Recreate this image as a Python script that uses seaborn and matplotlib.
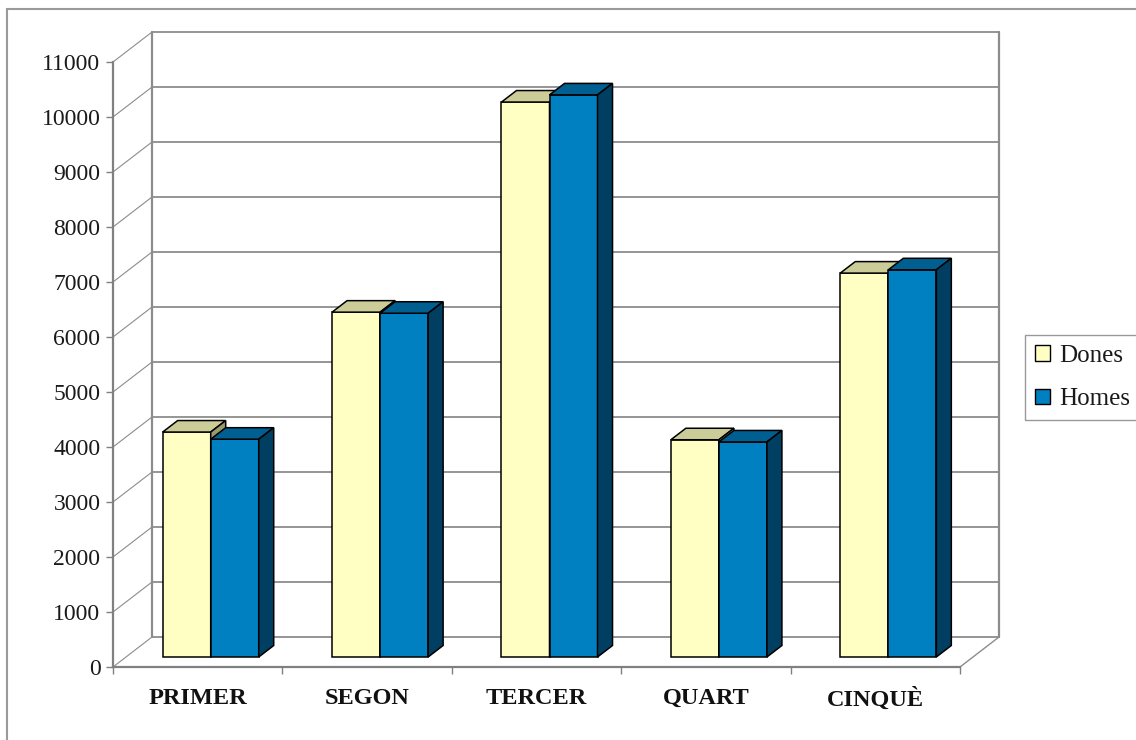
import numpy as np
import pandas as pd
import matplotlib
matplotlib.use("Agg")
import matplotlib.pyplot as plt
from matplotlib.patches import Polygon, Rectangle, Patch
import seaborn as sns

# Students per course, split by sex
cursos = ["PRIMER", "SEGON", "TERCER", "QUART", "CINQUÈ"]
dones = [4090, 6270, 10090, 3950, 6980]
homes = [3960, 6250, 10220, 3910, 7040]
series = ["Dones", "Homes"]
yticks = list(range(0, 11001, 1000))

front_colors = ["#FFFFC4", "#0080C0"]
top_colors = ["#CCCC99", "#005F91"]
side_colors = ["#99996B", "#003F61"]

df = pd.DataFrame({
    "curs": cursos * 2,
    "valor": dones + homes,
    "sexe": [series[0]] * len(cursos) + [series[1]] * len(cursos),
})

sns.set_theme(style="white")
plt.rcParams["font.family"] = ["Liberation Serif", "DejaVu Serif"]

W, H = 1136, 740
fig = plt.figure(figsize=(W / 100, H / 100), dpi=100)
fig.patch.set_facecolor("white")
# front plane of the 3-D box (where the axes and ticks live)
ax = fig.add_axes([113 / W, (H - 667) / H, 847 / W, 605 / H])

sns.barplot(data=df, x="curs", y="valor", hue="sexe", palette=front_colors,
            saturation=1, width=0.567, gap=0, errorbar=None, legend=False,
            edgecolor="black", linewidth=1.1, ax=ax)
bars = list(ax.patches)

ax.set_xlim(-0.5, len(cursos) - 0.5)
ax.set_ylim(0, 11000)
ax.set_facecolor("none")
ax.set_xlabel("")
ax.set_ylabel("")


def px_to_data(dx, dy):
    """Convert a screen offset in pixels to a data-space offset."""
    ox, oy = ax.transData.transform((0, 0))
    return tuple(ax.transData.inverted().transform((ox + dx, oy + dy)))


wdx, wdy = px_to_data(39, 30)    # depth of the whole box
pdx, pdy = px_to_data(13, 10)    # plane where the columns stand
bdx, bdy = px_to_data(15, 11.5)  # depth of each column

x_lo, x_hi = -0.5, len(cursos) - 0.5
grid_col = "#8c8c8c"

# back wall gridlines and left wall diagonals
for v in yticks:
    ax.plot([x_lo + wdx, x_hi + wdx], [v + wdy, v + wdy], color=grid_col,
            lw=1.3, clip_on=False, zorder=0.5)
    ax.plot([x_lo, x_lo + wdx], [v, v + wdy], color=grid_col,
            lw=0.8, clip_on=False, zorder=0.5)
# wall edges and floor outline
ax.plot([x_lo + wdx] * 2, [wdy, 11000 + wdy], color=grid_col, lw=1.6,
        clip_on=False, zorder=0.5)
ax.plot([x_hi + wdx] * 2, [wdy, 11000 + wdy], color=grid_col, lw=1.6,
        clip_on=False, zorder=0.5)
ax.plot([x_hi, x_hi + wdx], [0, wdy], color=grid_col, lw=1.0,
        clip_on=False, zorder=0.5)

# columns: move onto their plane and add top and side faces
order = sorted(range(len(bars)), key=lambda i: bars[i].get_x())
for rank, i in enumerate(order):
    b = bars[i]
    k = 0 if i < len(cursos) else 1
    x0, w, h = b.get_x(), b.get_width(), b.get_height()
    x0 += pdx
    b.set_x(x0)
    b.set_y(pdy)
    b.set_clip_on(False)
    z = 2 + 3 * rank
    b.set_zorder(z)
    top = Polygon([(x0, h + pdy), (x0 + w, h + pdy),
                   (x0 + w + bdx, h + pdy + bdy), (x0 + bdx, h + pdy + bdy)],
                  closed=True, facecolor=top_colors[k], edgecolor="black",
                  lw=1.1, zorder=z + 1, clip_on=False)
    side = Polygon([(x0 + w, pdy), (x0 + w, h + pdy),
                    (x0 + w + bdx, h + pdy + bdy), (x0 + w + bdx, pdy + bdy)],
                   closed=True, facecolor=side_colors[k], edgecolor="black",
                   lw=1.1, zorder=z + 2, clip_on=False)
    ax.add_patch(top)
    ax.add_patch(side)

# axes lines
for s in ["top", "right"]:
    ax.spines[s].set_visible(False)
for s in ["left", "bottom"]:
    ax.spines[s].set_color("#808080")
    ax.spines[s].set_linewidth(1.6)
    ax.spines[s].set_zorder(1)

ax.set_yticks(yticks)
ax.set_yticklabels([str(v) for v in yticks])
ax.tick_params(axis="y", left=True, length=5, width=1, color="#808080",
               pad=4, labelsize=17, labelcolor="#1a1a1a")

ax.set_xticks(np.arange(x_lo, x_hi + 0.01, 1))
ax.set_xticklabels([])
ax.set_xticks(range(len(cursos)), minor=True)
ax.set_xticklabels(cursos, minor=True, fontweight="bold", fontsize=17.5,
                   color="#111111")
ax.tick_params(axis="x", which="major", bottom=True, length=5, width=1,
               color="#808080", direction="out")
ax.tick_params(axis="x", which="minor", bottom=True, length=0, pad=15)

handles = [Patch(facecolor=c, edgecolor="black", lw=1) for c in front_colors]
leg = fig.legend(handles, series, loc="upper left",
                 bbox_to_anchor=(1025 / W, (H - 335) / H), fontsize=18,
                 frameon=True, fancybox=False, edgecolor="#808080",
                 handlelength=0.6, handleheight=0.6, handletextpad=0.35,
                 borderpad=0.4, labelspacing=0.85, borderaxespad=0)
leg.get_frame().set_linewidth(1.0)
for t in leg.get_texts():
    t.set_color("#1a1a1a")

# chart area border
fig.add_artist(Rectangle((7 / W, -0.05), 1.2, (H - 9) / H + 0.05,
                         transform=fig.transFigure, fill=False,
                         edgecolor="#9a9a9a", lw=1.5))

fig.savefig("out.png", dpi=100)
